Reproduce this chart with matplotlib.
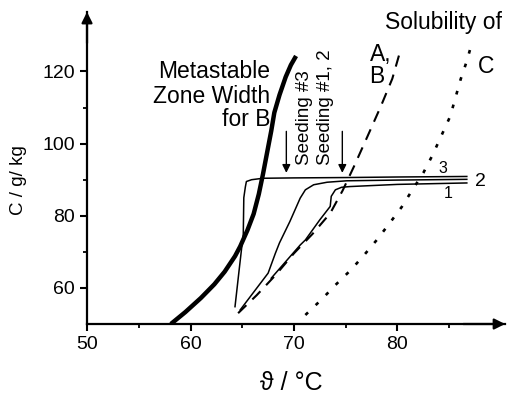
import numpy as np
import matplotlib.pyplot as plt

plt.rcParams['font.family'] = ['Liberation Sans', 'DejaVu Sans']

# metastable zone width for B (thick line)
mzw_t = [58.1, 59.5, 61.0, 62.3, 63.3, 64.3, 64.8, 65.5, 66.1, 66.6, 67.0, 67.4, 67.8, 68.1, 68.6, 69.2, 69.7, 70.2]
mzw_c = [50.0, 53.3, 57.2, 61.0, 64.5, 68.8, 71.5, 76.0, 80.5, 86.0, 91.5, 97.5, 103.5, 108.6, 113.5, 118.5, 121.8, 124.3]

# solubility of A, B (dashed)
solab_t = [64.6, 66.4, 68.2, 70.0, 71.8, 73.5, 74.7, 75.8, 77.1, 78.4, 79.5, 80.3]
solab_c = [53.0, 58.0, 63.5, 69.6, 75.0, 80.7, 87.0, 93.7, 102.0, 110.4, 118.0, 126.0]

# solubility of C (dotted)
solc_t = [71.1, 72.7, 74.0, 75.5, 76.8, 78.0, 79.2, 80.4, 81.4, 82.5, 83.4, 85.1, 86.1, 86.7, 87.2]
solc_c = [52.5, 56.9, 60.8, 65.0, 69.2, 73.3, 77.8, 82.4, 87.0, 91.9, 96.9, 107.6, 117.8, 122.9, 128.0]

# experimental runs
run3_t = [64.3, 64.7, 65.1, 65.15, 65.3, 65.4, 65.9, 67.0, 70.0, 75.0, 80.0, 86.7]
run3_c = [54.8, 65.0, 75.0, 85.0, 88.0, 89.5, 90.0, 90.4, 90.5, 90.6, 90.75, 90.9]

run2_t = [64.8, 67.5, 68.2, 68.6, 69.6, 70.6, 71.1, 71.9, 73.2, 75.1, 80.0, 86.7]
run2_c = [53.9, 64.1, 69.6, 72.5, 78.4, 84.9, 87.2, 88.6, 89.3, 89.7, 89.9, 90.1]

run1_t = [67.8, 70.6, 71.1, 72.5, 73.5, 73.6, 74.0, 74.6, 75.4, 80.0, 86.7]
run1_c = [62.7, 71.9, 73.3, 78.9, 82.6, 85.4, 87.2, 87.9, 88.1, 88.7, 89.1]

seed_t = [69.26, 74.67]
seed_labels = ['Seeding #3', 'Seeding #1, 2']
seed_text_t = [71.0, 73.06]

x_major = [50, 60, 70, 80]
x_minor = [55, 65, 75, 85]
y_major = [60, 80, 100, 120]
y_minor = [70, 90, 110]

fig = plt.figure(figsize=(5.08, 3.96), dpi=100)
ax = fig.add_axes([0.1713, 0.1818, 0.823, 0.788])
ax.set_xlim(50, 90.4)
ax.set_ylim(50, 136.5)

ax.plot(mzw_t, mzw_c, color='k', lw=3.2, solid_capstyle='butt')
ax.plot(solab_t, solab_c, color='k', lw=1.5, dashes=(5.5, 4))
ax.plot(solc_t, solc_c, color='k', lw=1.9, dashes=(1.4, 4.0))
for t, c in [(run3_t, run3_c), (run2_t, run2_c), (run1_t, run1_c)]:
    ax.plot(t, c, color='k', lw=1.1)

for t in seed_t:
    ax.annotate('', xy=(t, 91.9), xytext=(t, 103.4),
                arrowprops=dict(arrowstyle='-|>', color='k', lw=1.0,
                                mutation_scale=12, shrinkA=0, shrinkB=0))
for t, s in zip(seed_text_t, seed_labels):
    ax.text(t, 94.2, s, rotation=90, ha='center', va='bottom', fontsize=13.5)

ax.text(84.43, 93.06, '3', ha='center', va='center', fontsize=11.5)
ax.text(87.97, 89.5, '2', ha='center', va='center', fontsize=14)
ax.text(84.9, 86.3, '1', ha='center', va='center', fontsize=11.5)

ax.text(67.7, 118.1, 'Metastable', ha='right', va='baseline', fontsize=16.5)
ax.text(67.7, 111.4, 'Zone Width', ha='right', va='baseline', fontsize=16.5)
ax.text(67.7, 104.9, 'for B', ha='right', va='baseline', fontsize=16.5)

ax.text(78.8, 131.7, 'Solubility of', ha='left', va='baseline', fontsize=16.5)
ax.text(77.3, 122.8, 'A,', ha='left', va='baseline', fontsize=16.5)
ax.text(77.3, 116.9, 'B', ha='left', va='baseline', fontsize=16.5)
ax.text(87.8, 119.7, 'C', ha='left', va='baseline', fontsize=16.5)

# axes with arrow heads
for s in ['top', 'right']:
    ax.spines[s].set_visible(False)
for s in ['left', 'bottom']:
    ax.spines[s].set_linewidth(1.6)
ax.annotate('', xy=(0, 1), xytext=(0, 0.9), xycoords='axes fraction',
            arrowprops=dict(arrowstyle='-|>', color='k', lw=1.6,
                            mutation_scale=16, shrinkA=0, shrinkB=0), annotation_clip=False)
ax.annotate('', xy=(1, 0), xytext=(0.9, 0), xycoords='axes fraction',
            arrowprops=dict(arrowstyle='-|>', color='k', lw=1.6,
                            mutation_scale=16, shrinkA=0, shrinkB=0), annotation_clip=False)

ax.set_xticks(x_major)
ax.set_xticks(x_minor, minor=True)
ax.set_yticks(y_major)
ax.set_yticks(y_minor, minor=True)
ax.tick_params(which='major', direction='out', length=5, width=1.5, labelsize=14)
ax.tick_params(which='minor', direction='out', length=3, width=1.3)

ax.set_xlabel('\u03d1 / \u00b0C', fontsize=18)
ax.xaxis.set_label_coords(0.488, -0.15)
ax.set_ylabel('C / g/ kg', fontsize=13.5)
ax.yaxis.set_label_coords(-0.1435, 0.4615)

fig.savefig('out.png', dpi=100)
